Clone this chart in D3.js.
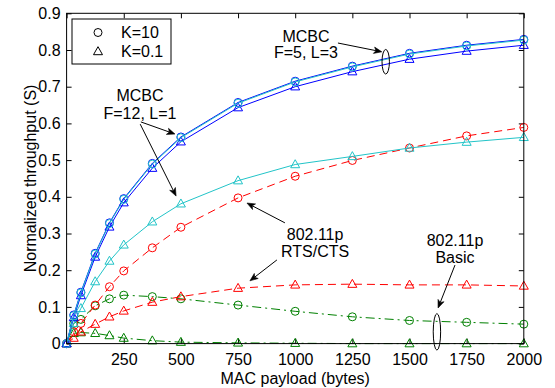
<!DOCTYPE html>
<html>
<head>
<meta charset="utf-8">
<script src="https://cdn.jsdelivr.net/npm/d3@7"></script>
<style>
html,body{margin:0;padding:0;background:#fff;}
svg{display:block;}
text{font-family:"Liberation Sans",Arial,Helvetica,sans-serif;}
</style>
</head>
<body>
<svg id="chart" width="555" height="388"></svg>
<script>
// ---- data ----
const payload = [0, 31.25, 62.5, 125, 187.5, 250, 375, 500, 750, 1000, 1250, 1500, 1750, 2000];
const mcbcF5L3K10  = [0, 0.078, 0.140, 0.246, 0.329, 0.395, 0.491, 0.563, 0.657, 0.715, 0.756, 0.791, 0.813, 0.829];
const mcbcF5L3K01  = [0, 0.071, 0.131, 0.236, 0.318, 0.384, 0.478, 0.550, 0.643, 0.700, 0.741, 0.775, 0.797, 0.813];
const mcbcF12L1K10 = [0, 0.076, 0.138, 0.244, 0.327, 0.393, 0.489, 0.561, 0.655, 0.713, 0.754, 0.789, 0.811, 0.827];
const mcbcF12L1K01 = [0, 0.055, 0.096, 0.169, 0.225, 0.269, 0.332, 0.381, 0.444, 0.488, 0.510, 0.533, 0.549, 0.562];
const rtsK10       = [0, 0.032, 0.055, 0.105, 0.155, 0.198, 0.261, 0.317, 0.397, 0.456, 0.499, 0.533, 0.566, 0.589];
const rtsK01       = [0, 0.015, 0.032, 0.053, 0.073, 0.089, 0.113, 0.128, 0.151, 0.160, 0.162, 0.160, 0.160, 0.157];
const basicK10     = [0, 0.055, 0.066, 0.103, 0.122, 0.132, 0.128, 0.122, 0.105, 0.088, 0.073, 0.063, 0.058, 0.053];
const basicK01     = [0, 0.028, 0.030, 0.028, 0.022, 0.015, 0.008, 0.004, 0.002, 0.001, 0, 0, 0, 0];
const xTicks = [0, 250, 500, 750, 1000, 1250, 1500, 1750, 2000];
const yTicks = [0, 0.1, 0.2, 0.3, 0.4, 0.5, 0.6, 0.7, 0.8, 0.9];
const legendLabels = ["K=10", "K=0.1"];

// ---- layout ----
const L = 66.6, R = 523.8, T = 13.3, B = 343.6;
const svg = d3.select("#chart");
const x = d3.scaleLinear().domain([0, 2000]).range([L, R]);
const y = d3.scaleLinear().domain([0, 0.9]).range([B, T]);
const FS = 16;
const FONT = '"Liberation Sans",Arial,sans-serif';

// axes (MATLAB style, inward ticks on all sides)
const tickLen = 5;
svg.append("g").attr("transform", `translate(0,${B})`)
  .call(d3.axisBottom(x).tickValues(xTicks).tickSizeInner(-tickLen).tickSizeOuter(0)
    .tickFormat(d => d === 0 ? "" : d3.format("d")(d)).tickPadding(10))
  .call(g => { g.select(".domain").remove(); g.selectAll("text").attr("font-size", FS).attr("fill","#000").style("font-family",FONT); g.selectAll("line").attr("stroke","#000"); });
svg.append("g").attr("transform", `translate(0,${T})`)
  .call(d3.axisTop(x).tickValues(xTicks).tickSizeInner(-tickLen).tickSizeOuter(0).tickFormat(""))
  .call(g => { g.select(".domain").remove(); g.selectAll("line").attr("stroke","#000"); });
svg.append("g").attr("transform", `translate(${L},0)`)
  .call(d3.axisLeft(y).tickValues(yTicks).tickSizeInner(-tickLen).tickSizeOuter(0)
    .tickFormat(d => d === 0 ? "0" : d3.format(".1f")(d)).tickPadding(6))
  .call(g => { g.select(".domain").remove(); g.selectAll("text").attr("font-size", FS).attr("fill","#000").style("font-family",FONT); g.selectAll("line").attr("stroke","#000"); });
svg.append("g").attr("transform", `translate(${R},0)`)
  .call(d3.axisRight(y).tickValues(yTicks).tickSizeInner(-tickLen).tickSizeOuter(0).tickFormat(""))
  .call(g => { g.select(".domain").remove(); g.selectAll("line").attr("stroke","#000"); });

// axis labels
svg.append("text").attr("x", (L + R) / 2).attr("y", 384).attr("text-anchor", "middle")
  .attr("font-size", FS).text("MAC payload (bytes)");
svg.append("text").attr("transform", `translate(36,${(T + B) / 2}) rotate(-90)`)
  .attr("text-anchor", "middle").attr("font-size", FS).text("Normalized throughput (S)");

// ---- series ----
const plot = svg.append("g");
const tri = "M0,-4.8L4.5,3.2L-4.5,3.2Z";
function series(vals, color, dash, marker) {
  const pts = payload.map((p, i) => [p, vals[i]]);
  plot.append("path").datum(pts)
    .attr("d", d3.line().x(d => x(d[0])).y(d => y(d[1])))
    .attr("fill", "none").attr("stroke", color).attr("stroke-width", 1)
    .attr("stroke-dasharray", dash);
  const g = plot.append("g");
  if (marker === "o") {
    g.selectAll("circle").data(pts).join("circle")
      .attr("cx", d => x(d[0])).attr("cy", d => y(d[1])).attr("r", 4)
      .attr("fill", "none").attr("stroke", color).attr("stroke-width", 1);
  } else {
    g.selectAll("path").data(pts).join("path")
      .attr("transform", d => `translate(${x(d[0])},${y(d[1])})`).attr("d", tri)
      .attr("fill", "none").attr("stroke", color).attr("stroke-width", 1);
  }
}
const BLUE = "#0000ff", CYAN = "#22c4c8", RED = "#ff0000", GREEN = "#008000";
series(basicK01, GREEN, "9,4,2,4", "^");
series(basicK10, GREEN, "9,4,2,4", "o");
series(rtsK01, RED, "8,5", "^");
series(rtsK10, RED, "8,5", "o");
series(mcbcF12L1K01, CYAN, null, "^");
series(mcbcF5L3K01, BLUE, null, "^");
series(mcbcF5L3K10, BLUE, null, "o");
series(mcbcF12L1K10, CYAN, null, "o");

// frame
svg.append("rect").attr("x", L).attr("y", T).attr("width", R - L).attr("height", B - T)
  .attr("fill", "none").attr("stroke", "#000").attr("stroke-width", 1);

// ---- legend ----
const lg = svg.append("g");
lg.append("rect").attr("x", 72).attr("y", 19).attr("width", 99).attr("height", 45)
  .attr("fill", "#fff").attr("stroke", "#000").attr("stroke-width", 1);
lg.append("circle").attr("cx", 98).attr("cy", 32.5).attr("r", 4).attr("fill", "none").attr("stroke", "#000");
lg.append("path").attr("transform", "translate(98,51.5)").attr("d", tri).attr("fill", "none").attr("stroke", "#000");
lg.append("text").attr("x", 121).attr("y", 38).attr("font-size", FS).text(legendLabels[0]);
lg.append("text").attr("x", 121).attr("y", 57).attr("font-size", FS).text(legendLabels[1]);

// ---- annotations (data coordinates) ----
const ann = svg.append("g");
function arrow(x0, y0, x1, y1) {
  const X0 = x(x0), Y0 = y(y0), X1 = x(x1), Y1 = y(y1);
  const a = Math.atan2(Y1 - Y0, X1 - X0);
  const len = 8, wid = 3.2;
  const bx = X1 - len * Math.cos(a), by = Y1 - len * Math.sin(a);
  ann.append("line").attr("x1", X0).attr("y1", Y0).attr("x2", bx + 2 * Math.cos(a)).attr("y2", by + 2 * Math.sin(a))
    .attr("stroke", "#000").attr("stroke-width", 1);
  const p1 = [bx + wid * Math.sin(a), by - wid * Math.cos(a)];
  const p2 = [bx - wid * Math.sin(a), by + wid * Math.cos(a)];
  const nx = X1 - (len - 2) * Math.cos(a), ny = Y1 - (len - 2) * Math.sin(a);
  ann.append("path").attr("d", `M${X1},${Y1}L${p1[0]},${p1[1]}L${nx},${ny}L${p2[0]},${p2[1]}Z`)
    .attr("fill", "#000").attr("stroke", "#000").attr("stroke-width", 0.6);
}
function label(cx, lines, baselines) {
  lines.forEach((t, i) => ann.append("text").attr("x", x(cx)).attr("y", y(baselines[i]))
    .attr("text-anchor", "middle").attr("font-size", FS).text(t));
}
function ellipse(cx, cy, rx, ry) {
  ann.append("ellipse").attr("cx", x(cx)).attr("cy", y(cy)).attr("rx", rx).attr("ry", ry)
    .attr("fill", "none").attr("stroke", "#000").attr("stroke-width", 1);
}
label(321, ["MCBC", "F=12, L=1"], [0.660, 0.613]);
arrow(325, 0.604, 474, 0.571);
arrow(322, 0.598, 479, 0.402);
label(1047, ["MCBC", "F=5, L=3"], [0.823, 0.777]);
arrow(1187, 0.819, 1379, 0.795);
ellipse(1396, 0.768, 3.7, 12.3);
label(1087, ["802.11p", "RTS/CTS"], [0.282, 0.236]);
arrow(955, 0.329, 789, 0.383);
arrow(920, 0.228, 802, 0.171);
label(1699, ["802.11p", "Basic"], [0.266, 0.220]);
arrow(1699, 0.214, 1625, 0.097);
ellipse(1620, 0.032, 3.7, 18.3);
</script>
</body>
</html>
